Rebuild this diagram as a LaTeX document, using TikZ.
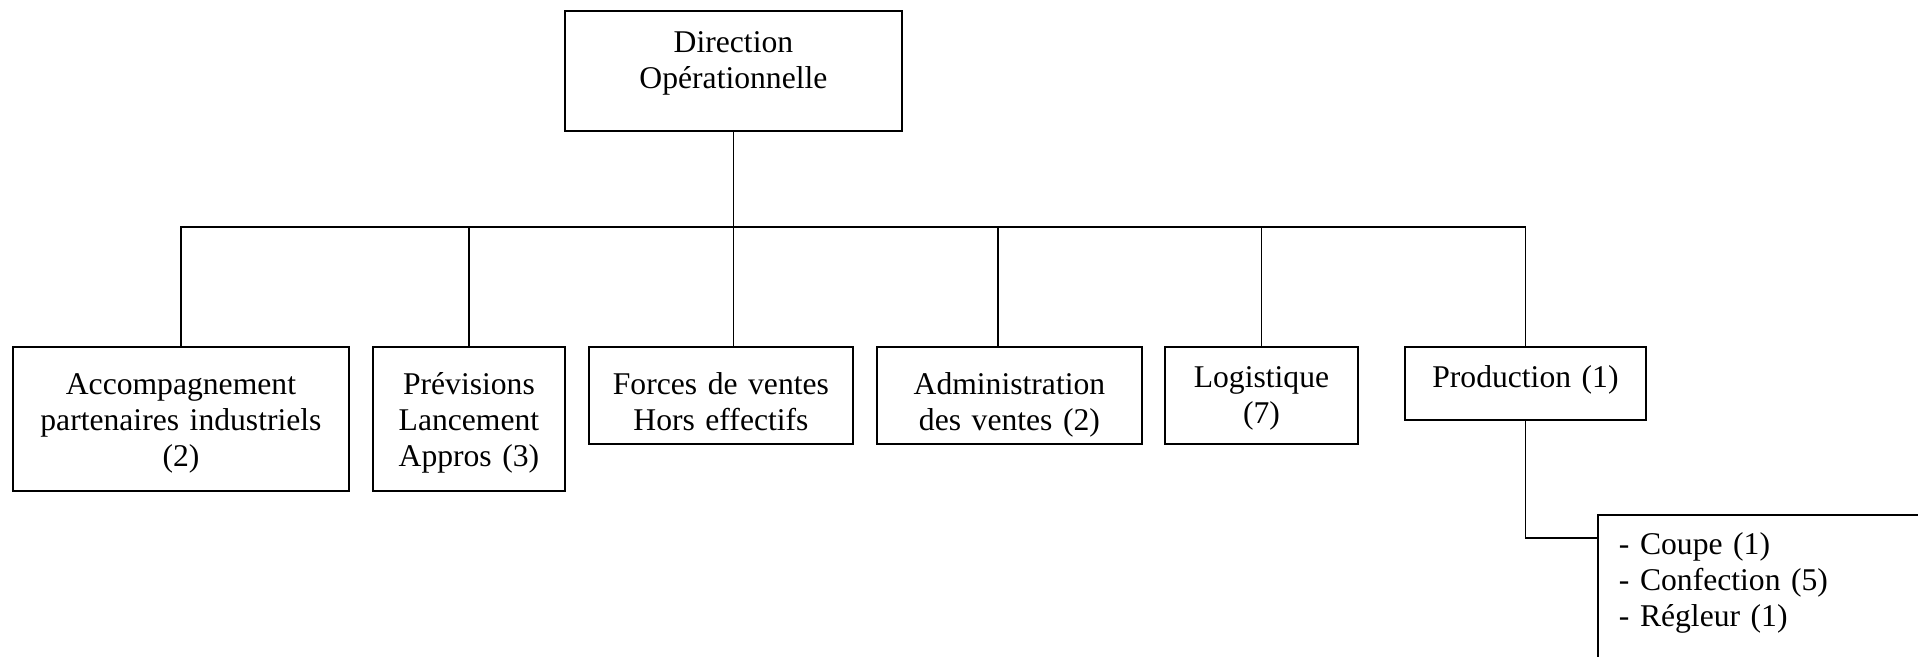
\documentclass[tikz,border=0pt]{standalone}
\usepackage{fontspec}
\setmainfont{Liberation Serif}

\begin{document}
\begin{tikzpicture}[x=0.015cm, y=-0.015cm,
  orgbox/.style={draw, line width=0.8pt, inner sep=0pt, anchor=north west, align=center, font=\fontsize{13.5}{15.2}\selectfont},
  link/.style={line width=0.8pt}]
  \clip (0,0) rectangle (1918,656);

  \node[orgbox, text width=5.055cm, text height=0.63cm, text depth=1.17cm] (dir) at (564,10) {Direction\\Opérationnelle};

  \node[orgbox, text width=5.04cm, text height=0.72cm, text depth=1.44cm] (acc)  at (12,346)   {Accompagnement\\partenaires industriels\\(2)};
  \node[orgbox, text width=2.88cm, text height=0.72cm, text depth=1.44cm] (prev) at (372,346)  {Prévisions\\Lancement\\Appros (3)};
  \node[orgbox, text width=3.96cm, text height=0.72cm, text depth=0.735cm] (fdv) at (588,346)  {Forces de ventes\\Hors effectifs};
  \node[orgbox, text width=3.975cm, text height=0.72cm, text depth=0.735cm] (adv) at (876,346) {Administration\\des ventes (2)};
  \node[orgbox, text width=2.895cm, text height=0.61cm, text depth=0.85cm] (log) at (1164,346) {Logistique\\(7)};
  \node[orgbox, text width=3.615cm, text height=0.61cm, text depth=0.49cm] (prod) at (1404,346) {Production (1)};

  \node[orgbox, align=left, text width=6cm, inner xsep=0.315cm, text height=0.6cm, text depth=3cm] (sub) at (1597,514)
    {- Coupe (1)\\- Confection (5)\\- Régleur (1)};

  % branches
  \coordinate (bar) at (0,227);
  \coordinate (subin) at (1597,538);
  \draw[link] (dir.south) -- (dir.south |- fdv.north);
  \draw[link] (acc.north) |- (prod.north |- bar) -- (prod.north);
  \foreach \n in {prev,log} \draw[link] (\n.north) -- (\n.north |- bar);
  \draw[link] ([xshift=-0.17cm]adv.north) -- ([xshift=-0.17cm]adv.north |- bar);
  \draw[link] (prod.south) |- (subin);
\end{tikzpicture}
\end{document}
